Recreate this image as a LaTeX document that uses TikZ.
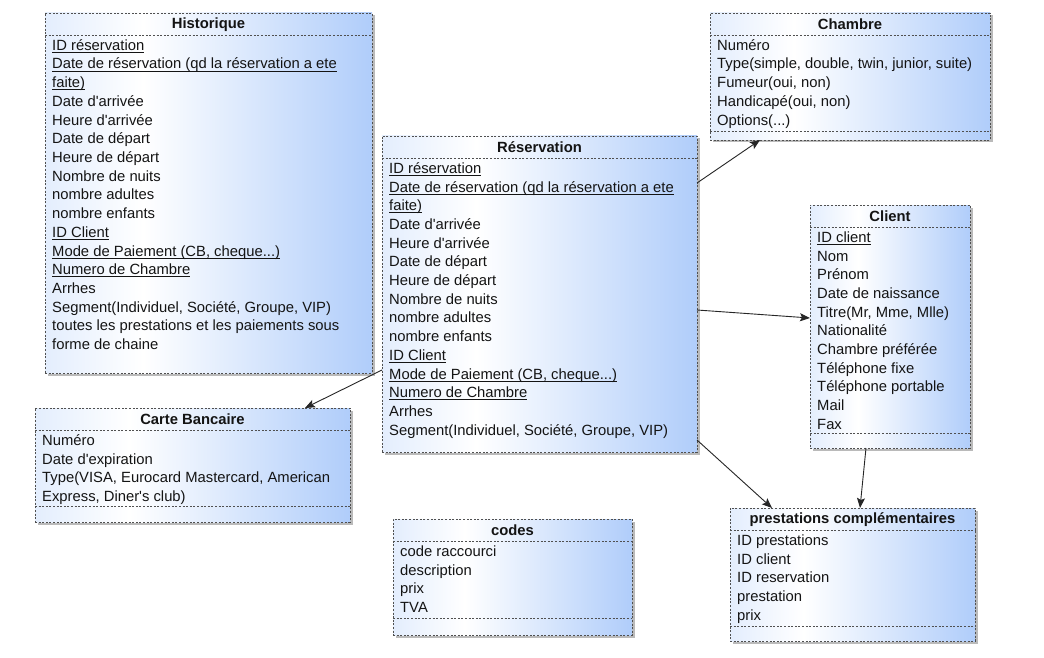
\documentclass[tikz,border=0pt]{standalone}
\usepackage{fontspec}
\newfontfamily\umlfont{Liberation Sans}
\usetikzlibrary{calc,shadows,arrows.meta}
\definecolor{umlblue}{RGB}{176,205,250}
\definecolor{umlline}{RGB}{80,80,80}
\definecolor{umltext}{RGB}{20,20,20}
\pgfdeclarehorizontalshading{umlshade}{100bp}{color(0bp)=(umlblue!35); color(25bp)=(umlblue!35); color(40bp)=(white); color(75bp)=(umlblue); color(100bp)=(umlblue)}
\newsavebox\ulbox
\newcommand\ulx[1]{\sbox\ulbox{#1}\rlap{\rule[-2.3pt]{\wd\ulbox}{0.7pt}}\usebox\ulbox}
\newcommand\tdd{...}
\tikzset{
  classbox/.style={rectangle, draw=umlline, line width=0.6pt, dash pattern=on 2pt off 1.6pt,
    shading=umlshade, inner sep=0pt, outer sep=0pt,
    drop shadow={shadow xshift=2.5pt, shadow yshift=-2.5pt, opacity=0.45, fill=black!60}},
  titletext/.style={font=\umlfont\fontsize{14.8}{17}\selectfont\bfseries, text=umltext, inner sep=0pt},
  attrtext/.style={font=\umlfont\fontsize{14.8}{17}\selectfont, text=umltext, inner sep=0pt,
    anchor=west, text height=10.6pt, text depth=3pt},
  sepline/.style={draw=umlline, line width=0.6pt, dash pattern=on 2pt off 1.6pt},
  arr/.style={draw=black!85, line width=0.9pt, -{Stealth[length=10pt,width=8pt,inset=2pt]}}
}
% #1 name, #2 x, #3 y, #4 width, #5 height, #6 title, #7 lower separator offset (0 = none), #8 lines
\newcommand\umlclass[8]{%
  \node[classbox, minimum width=#4pt, minimum height=#5pt, anchor=north west] (#1) at (#2,#3) {};
  \node[titletext] (#1-t) at ($(#1.north)+(0,11.5)$) {#6};
  \draw[sepline] ($(#1.north west)+(0,22)$) -- ($(#1.north east)+(0,22)$);
  \foreach \attr [count=\i] in {#8} {
    \node[attrtext] (#1-\i) at ($(#1.north west)+(7,{33.5+(\i-1)*18.7})$) {\attr};
  }
  \ifnum#7>0
    \draw[sepline] ($(#1.north west)+(0,#7)$) -- ($(#1.north east)+(0,#7)$);
  \fi
}
\begin{document}
\begin{tikzpicture}[x=1pt,y=-1pt]
\useasboundingbox[fill=white] (0,0) rectangle (1044,658);

\umlclass{hist}{45}{13}{327}{360}{Historique}{0}{%
  {\ulx{ID réservation}}, {\ulx{Date de réservation (qd la réservation a ete}}, {\ulx{faite)}},
  Date d'arrivée, Heure d'arrivée, Date de départ, Heure de départ, Nombre de nuits,
  nombre adultes, nombre enfants, {\ulx{ID Client}}, {\ulx{Mode de Paiement (CB, cheque\tdd)}},
  {\ulx{Numero de Chambre}}, Arrhes, {Segment(Individuel, Société, Groupe, VIP)},
  toutes les prestations et les paiements sous, forme de chaine}

\umlclass{resa}{382}{136}{315}{316}{Réservation}{0}{%
  {\ulx{ID réservation}}, {\ulx{Date de réservation (qd la réservation a ete}}, {\ulx{faite)}},
  Date d'arrivée, Heure d'arrivée, Date de départ, Heure de départ, Nombre de nuits,
  nombre adultes, nombre enfants, {\ulx{ID Client}}, {\ulx{Mode de Paiement (CB, cheque\tdd)}},
  {\ulx{Numero de Chambre}}, Arrhes, {Segment(Individuel, Société, Groupe, VIP)}}

\umlclass{cham}{710}{13}{280}{127}{Chambre}{118}{%
  Numéro, {Type(simple, double, twin, junior, suite)}, {Fumeur(oui, non)},
  {Handicapé(oui, non)}, {Options(\tdd)}}

\umlclass{client}{810}{205}{160}{243}{Client}{228}{%
  {\ulx{ID client}}, Nom, Prénom, Date de naissance, {Titre(Mr, Mme, Mlle)}, Nationalité,
  Chambre préférée, Téléphone fixe, Téléphone portable, Mail, Fax}

\umlclass{carte}{35}{408}{315}{114}{Carte Bancaire}{98}{%
  Numéro, Date d'expiration, {Type(VISA, Eurocard Mastercard, American},
  {Express, Diner's club)}}

\umlclass{codes}{393}{519}{239}{116}{codes}{99}{%
  code raccourci, description, prix, TVA}

\umlclass{prest}{730}{508}{245}{133}{prestations complémentaires}{118}{%
  ID prestations, ID client, ID reservation, prestation, prix}

\draw[arr] ($(resa.north east)+(0,47)$) -- ($(cham.south west)+(50,0)$);
\draw[arr] ($(resa.north east)+(0,174)$) -- ($(client.north west)+(0,113)$);
\draw[arr] ($(resa.north west)+(0,234)$) -- ($(carte.north west)+(270,0)$);
\draw[arr] ($(resa.north east)+(0,304)$) -- ($(prest.north west)+(42,0)$);
\draw[arr] ($(client.south west)+(56,0)$) -- ($(prest.north west)+(130,0)$);
\end{tikzpicture}
\end{document}
